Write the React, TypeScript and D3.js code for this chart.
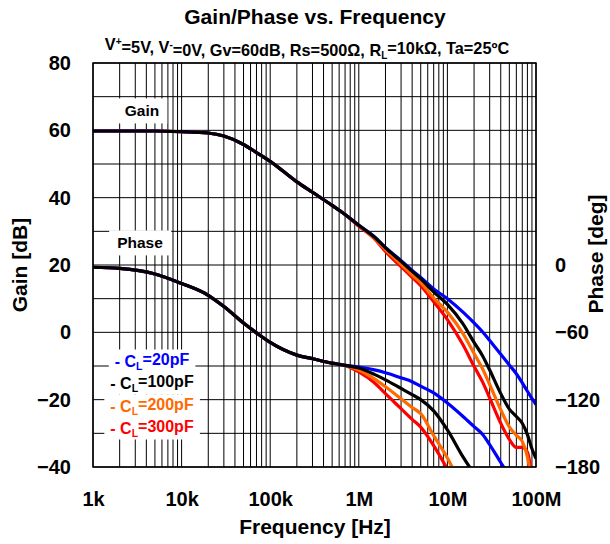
import React, { useEffect, useRef } from "react";
import * as d3 from "d3";

// Frequency grid (Hz) shared by all curves
const freqHz = [
    1e3, 2e3, 5e3, 1e4, 2e4, 3e4, 5e4, 7e4, 1e5, 2e5, 3e5, 5e5, 7e5, 1e6, 1.5e6, 2e6,
    3e6, 4e6, 5e6, 7e6, 1e7, 1.5e7, 2e7, 2.5e7, 3e7, 4e7, 5e7, 6e7, 7e7, 8e7, 9e7, 1e8,
];

// Gain [dB] – common part up to 1MHz
const gainCommon = [59.8, 59.8, 59.8, 59.6, 59.2, 58.3, 55.8, 53.4, 50.8, 44.7, 41.6, 37.7, 35.0, 31.8];
const gain20 = [...gainCommon, 28.4, 25.2, 21.3, 18.4, 16.3, 12.9, 10.0, 6.0, 2.8, 0.1, -2.4, -6.5, -9.7, -12.3, -15.0, -17.5, -19.6, -21.5];
const gain100 = [...gainCommon, 28.3, 25.1, 21.1, 18.1, 15.9, 12.0, 8.3, 2.5, -3.0, -7.0, -11.2, -18.2, -22.8, -25.0, -27.0, -30.4, -34.6, -37.5];
const gain200 = [...gainCommon, 28.0, 24.6, 20.2, 17.0, 14.8, 10.2, 6.0, -0.4, -6.3, -10.9, -15.5, -23.0, -28.1, -30.6, -32.4, -37.0, -45.0, null];
const gain300 = [...gainCommon.slice(0, 13), 31.5, 27.8, 24.0, 19.5, 16.3, 13.9, 9.1, 3.8, -3.7, -10.1, -14.8, -19.5, -27.0, -31.8, -34.2, -34.2, -35.6, -43.0, null];

// Phase [deg] – common part up to 700kHz
const phaseCommon = [-2, -3, -8, -16.5, -27, -37, -51.7, -60.5, -69, -80.3, -83.5, -87.5, -89.5];
const phase20 = [...phaseCommon, -90.9, -93.5, -96, -100.5, -104, -108, -114, -123, -135, -144, -151, -160, -176, -188, null, null, null, null, null];
const phase100 = [...phaseCommon, -91.8, -97.5, -102.3, -110, -115.5, -120, -130, -147, -171, -186, null, null, null, null, null, null, null, null, null];
const phase200 = [...phaseCommon, -93.5, -101.5, -108.5, -119.2, -127, -132.5, -152, -172, -200, null, null, null, null, null, null, null, null, null, null];
const phase300 = [...phaseCommon, -95.3, -105, -114.7, -128, -137.5, -144.5, -161, -182, null, null, null, null, null, null, null, null, null, null, null];

const seriesNames = ["CL=300pF", "CL=200pF", "CL=20pF", "CL=100pF"];
const seriesColors = ["#ff0000", "#ff6a00", "#0000ff", "#000000"];
const gainSeries = [gain300, gain200, gain20, gain100];
const phaseSeries = [phase300, phase200, phase20, phase100];

const legendValues = ["20pF", "100pF", "200pF", "300pF"];
const legendColors = ["#0000ff", "#000000", "#ff6a00", "#ff0000"];

const gainTicks = [-40, -20, 0, 20, 40, 60, 80];
const phaseTicks = [-180, -120, -60, 0];
const freqTicks = [1e3, 1e4, 1e5, 1e6, 1e7, 1e8];
const freqLabels = ["1k", "10k", "100k", "1M", "10M", "100M"];

const FONT = "'Liberation Sans', Arial, sans-serif";

const App: React.FC = () => {
    const svgRef = useRef<SVGSVGElement>(null);
    const W = 610;
    const H = 544;
    const plot = { left: 93, right: 536, top: 63, bottom: 467 };

    useEffect(() => {
        if (!svgRef.current) return;
        const svg = d3.select(svgRef.current);
        svg.selectAll("*").remove();

        const x = d3.scaleLog().domain([1e3, 1e8]).range([plot.left, plot.right]);
        const yGain = d3.scaleLinear().domain([-40, 80]).range([plot.bottom, plot.top]);
        const yPhase = d3.scaleLinear().domain([-180, 180]).range([plot.bottom, plot.top]);

        svg.append("rect").attr("width", W).attr("height", H).attr("fill", "#fff");

        // Grid
        const grid = svg.append("g");
        const minor: number[] = [];
        for (let dec = 1e3; dec < 1e8; dec *= 10) {
            for (let k = 2; k <= 9; k++) minor.push(dec * k);
        }
        grid.selectAll(".vline")
            .data([...minor, ...freqTicks])
            .enter()
            .append("line")
            .attr("x1", (d) => x(d))
            .attr("x2", (d) => x(d))
            .attr("y1", plot.top)
            .attr("y2", plot.bottom)
            .attr("stroke", "#000")
            .attr("stroke-width", 1);
        grid.selectAll(".hline")
            .data(d3.range(-40, 81, 10))
            .enter()
            .append("line")
            .attr("x1", plot.left)
            .attr("x2", plot.right)
            .attr("y1", (d) => yGain(d))
            .attr("y2", (d) => yGain(d))
            .attr("stroke", "#000")
            .attr("stroke-width", 1);

        // Labels with white boxes
        const boxed = (txt: string, cx: number, cy: number, padX: number, padY: number, size: number) => {
            const g = svg.append("g");
            const rect = g.append("rect").attr("fill", "#fff");
            const t = g.append("text")
                .attr("x", cx)
                .attr("y", cy)
                .attr("dy", "0.35em")
                .attr("text-anchor", "middle")
                .attr("font-family", FONT)
                .attr("font-weight", "bold")
                .attr("font-size", size)
                .text(txt);
            const bb = (t.node() as SVGTextElement).getBBox();
            rect.attr("x", bb.x - padX).attr("y", bb.y - padY)
                .attr("width", bb.width + 2 * padX).attr("height", bb.height + 2 * padY);
            return t;
        };
        boxed("Gain", 142, 111, 8, 4, 15.5);
        boxed("Phase", 140, 243, 8, 4, 15.5);

        // Legend
        const legendY = [361, 383, 406, 428];
        legendValues.forEach((v, i) => {
            const t = boxed("", 152, legendY[i], 6, 2, 16);
            t.attr("fill", legendColors[i]);
            t.append("tspan").text("- C");
            t.append("tspan").attr("font-size", 10.5).attr("dy", "0.3em").text("L");
            t.append("tspan").attr("dy", "-0.3em").text("=" + v);
            const bb = (t.node() as SVGTextElement).getBBox();
            d3.select(t.node()!.parentNode as SVGGElement).select("rect")
                .attr("x", bb.x - 6).attr("y", legendY[i] - 11.5)
                .attr("width", bb.width + 12).attr("height", 23);
        });

        // Curves
        svg.append("clipPath").attr("id", "plotClip")
            .append("rect")
            .attr("x", plot.left).attr("y", plot.top)
            .attr("width", plot.right - plot.left).attr("height", plot.bottom - plot.top);
        const curves = svg.append("g").attr("clip-path", "url(#plotClip)");

        const draw = (vals: (number | null)[], y: d3.ScaleLinear<number, number>, color: string) => {
            const pts = freqHz.map((f, i) => [f, vals[i]] as [number, number | null]);
            const line = d3.line<[number, number | null]>()
                .defined((d) => d[1] != null)
                .x((d) => x(d[0]))
                .y((d) => y(d[1] as number))
                .curve(d3.curveMonotoneX);
            curves.append("path")
                .attr("d", line(pts))
                .attr("fill", "none")
                .attr("stroke", color)
                .attr("stroke-width", 3.2)
                .attr("stroke-linejoin", "round");
        };
        seriesNames.forEach((_, i) => {
            draw(gainSeries[i], yGain, seriesColors[i]);
            draw(phaseSeries[i], yPhase, seriesColors[i]);
        });

        // Frame
        svg.append("rect")
            .attr("x", plot.left).attr("y", plot.top)
            .attr("width", plot.right - plot.left).attr("height", plot.bottom - plot.top)
            .attr("fill", "none").attr("stroke", "#000").attr("stroke-width", 1.5);

        // Axes (labels only)
        const styleAxis = (g: d3.Selection<SVGGElement, unknown, null, undefined>) => {
            g.select(".domain").remove();
            g.selectAll("text")
                .attr("font-family", FONT)
                .attr("font-weight", "bold")
                .attr("font-size", 20)
                .attr("fill", "#000");
        };
        svg.append("g")
            .attr("transform", `translate(${plot.left},0)`)
            .call(d3.axisLeft(yGain).tickValues(gainTicks).tickSize(0).tickPadding(22))
            .call(styleAxis);
        svg.append("g")
            .attr("transform", `translate(${plot.right},0)`)
            .call(d3.axisRight(yPhase).tickValues(phaseTicks).tickSize(0).tickPadding(19))
            .call(styleAxis);
        svg.append("g")
            .attr("transform", `translate(0,${plot.bottom})`)
            .call(
                d3.axisBottom(x).tickValues(freqTicks).tickSize(0).tickPadding(25)
                    .tickFormat((_, i) => freqLabels[i])
            )
            .call(styleAxis);

        // Axis titles
        const title = (txt: string, tx: number, ty: number, rot: number, size: number) =>
            svg.append("text")
                .attr("transform", `translate(${tx},${ty}) rotate(${rot})`)
                .attr("text-anchor", "middle")
                .attr("font-family", FONT)
                .attr("font-weight", "bold")
                .attr("font-size", size)
                .text(txt);
        title("Frequency [Hz]", 315, 534, 0, 21);
        title("Gain [dB]", 27, 265, -90, 21);
        title("Phase [deg]", 603, 254, -90, 21);
        title("Gain/Phase vs. Frequency", 315, 24, 0, 21);

        // Subtitle with super/subscripts
        const sub = svg.append("text")
            .attr("x", 307).attr("y", 50)
            .attr("text-anchor", "middle")
            .attr("font-family", FONT)
            .attr("font-weight", "bold")
            .attr("font-size", 16.3);
        sub.append("tspan").text("V");
        sub.append("tspan").attr("font-size", 10).attr("dy", "-0.5em").text("+");
        sub.append("tspan").attr("dy", "0.5em").text("=5V, V");
        sub.append("tspan").attr("font-size", 10).attr("dy", "-0.5em").text("-");
        sub.append("tspan").attr("dy", "0.5em").text("=0V, Gv=60dB, Rs=500Ω, R");
        sub.append("tspan").attr("font-size", 10).attr("dy", "0.3em").text("L");
        sub.append("tspan").attr("dy", "-0.3em").text("=10kΩ, Ta=25ºC");
    }, []);

    return (
        <svg
            ref={svgRef}
            width={W}
            height={H}
            style={{ position: "absolute", left: 0, top: 0 }}
        />
    );
};

export default App;
